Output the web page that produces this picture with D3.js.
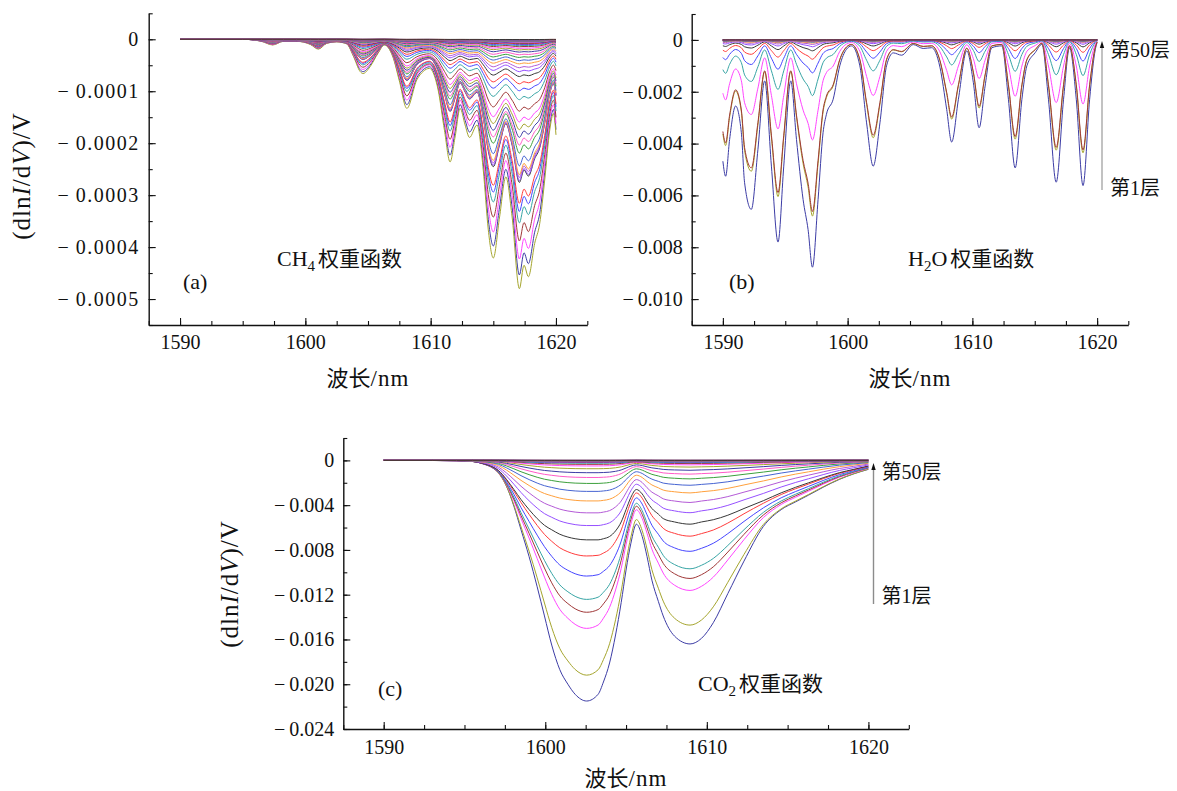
<!DOCTYPE html>
<html>
<head>
<meta charset="utf-8">
<script src="https://cdn.jsdelivr.net/npm/d3@7/dist/d3.min.js"></script>
<style>
  html, body { margin: 0; background: #fff; }
  svg text { font-family: "Liberation Serif", "DejaVu Serif", serif; fill: #111; }
  svg .cjk { font-family: "Noto Sans CJK SC", "Noto Sans CJK JP", sans-serif; }
</style>
</head>
<body>
<svg id="chart" width="1177" height="791"></svg>
<script>
// ---------- data ----------
// Weighting functions (dlnI/dV)/V for 50 atmospheric layers, expressed as two
// basis spectra per gas (lower-layer shape, upper-layer shape) and per-layer weights.

const wavelengthTicks = [1590, 1600, 1610, 1620];

// CH4, values in units of 1e-4
const ch4Wavelength = [1590, 1595, 1596.5, 1597.4, 1598.25, 1599.3, 1600.4, 1601.04, 1601.7, 1602.5,
  1603.3, 1603.84, 1604.37, 1604.6, 1605.16, 1605.8, 1606.3, 1607.0, 1607.5, 1608.1,
  1608.9, 1609.4, 1609.9, 1610.6, 1611.1, 1611.55, 1611.95, 1612.35, 1612.75, 1613.1,
  1613.7, 1614.2, 1614.6, 1615.0, 1615.5, 1616.0, 1616.5, 1617.08, 1617.45, 1617.8,
  1618.3, 1618.7, 1619.1, 1619.5, 1619.8, 1620];
const ch4Deep = [0, 0, -0.04, -0.11, -0.04, -0.04, -0.10, -0.19, -0.08, -0.05,
  -0.09, -0.33, -0.62, -0.66, -0.53, -0.27, -0.11, -0.35, -0.80, -1.33,
  -0.78, -0.62, -0.56, -0.98, -1.75, -2.36, -1.88, -1.33, -1.65, -1.89,
  -1.65, -2.52, -3.67, -4.21, -3.42, -2.65, -3.42, -4.80, -4.35, -4.57,
  -3.93, -3.55, -2.71, -1.75, -1.43, -1.84];
const ch4Upper = [0, 0, -0.02, -0.05, -0.03, -0.03, -0.06, -0.09, -0.06, -0.05,
  -0.08, -0.18, -0.30, -0.33, -0.28, -0.18, -0.14, -0.28, -0.50, -0.72,
  -0.58, -0.52, -0.50, -0.70, -1.00, -1.20, -1.10, -0.98, -1.08, -1.16,
  -1.10, -1.45, -1.82, -2.00, -1.85, -1.70, -1.88, -2.06, -1.98, -2.02,
  -1.92, -1.82, -1.50, -1.00, -0.80, -0.95];
const ch4WeightDeep = [0.945, 1, 0.881, 0.772, 0.669, 0.615, 0.567, 0.495, 0.489, 0.452,
  0.443, 0.366, 0.285, 0.223, 0.187, 0.154, 0.124, 0.093, 0.065, 0.045,
  0.029, 0.016, 0.014, 0.006, 0, 0, 0, 0, 0, 0,
  0, 0, 0, 0, 0, 0, 0, 0, 0, 0,
  0, 0, 0, 0, 0, 0, 0, 0, 0, 0];
const ch4WeightUpper = [0, 0, 0, 0.086, 0.157, 0.176, 0.211, 0.184, 0.182, 0.238,
  0.233, 0.33, 0.40, 0.47, 0.481, 0.486, 0.484, 0.455, 0.413, 0.376,
  0.349, 0.311, 0.27, 0.252, 0.23, 0.2, 0.17, 0.145, 0.12, 0.10,
  0.085, 0.07, 0.06, 0.05, 0.0425, 0.036, 0.031, 0.027, 0.0235, 0.0205,
  0.018, 0.0155, 0.0135, 0.0115, 0.01, 0.0085, 0.007, 0.0055, 0.004, 0.0025];
const ch4YTicks = [0, -0.0001, -0.0002, -0.0003, -0.0004, -0.0005];

// H2O, values in units of 1e-3
const h2oWavelength = [1590.0, 1590.22, 1590.54, 1591.02, 1591.48, 1591.74, 1592.28, 1592.81, 1593.35, 1593.89,
  1594.42, 1594.88, 1595.44, 1595.9, 1596.43, 1596.83, 1597.18, 1597.63, 1598.03, 1598.3,
  1598.84, 1599.37, 1599.91, 1600.31, 1600.98, 1601.52, 1602.05, 1602.59, 1603.12, 1603.66,
  1604.33, 1605.26, 1606.06, 1606.74, 1607.4, 1607.94, 1608.34, 1608.88, 1609.55, 1610.08,
  1610.54, 1611.02, 1611.56, 1612.36, 1612.89, 1613.43, 1613.97, 1614.37, 1615.04, 1615.57,
  1616.1, 1616.72, 1617.31, 1617.79, 1618.33, 1618.87, 1619.4, 1619.86, 1620.0];
const h2oDeep = [-4.68, -5.26, -3.84, -2.55, -3.58, -5.51, -6.54, -4.22, -1.58, -4.87,
  -7.80, -4.87, -1.58, -3.84, -6.16, -7.32, -8.77, -6.16, -3.58, -2.87,
  -2.29, -1.00, -0.36, -0.23, -1.00, -3.20, -4.87, -3.20, -1.00, -0.50,
  -0.59, -0.18, -0.33, -0.30, -1.05, -2.68, -3.94, -2.29, -0.42, -1.65,
  -3.39, -1.78, -0.30, -0.23, -2.29, -4.94, -2.29, -1.00, -0.49, -0.17,
  -2.29, -5.49, -2.29, -0.30, -2.29, -5.62, -2.29, -0.36, -0.10];
const h2oWeight = [1.0, 0.775, 0.44, 0.755, 0.245, 0.145, 0.085, 0.048, 0.030, 0.020,
  0.014, 0.010, 0.008, 0.0065, 0.0055, 0.0047, 0.004, 0.0035, 0.003, 0.0026,
  0.0023, 0.002, 0.0018, 0.0016, 0.0014, 0.0012, 0.0011, 0.001, 0.0009, 0.0008,
  0.0007, 0.0006, 0.00055, 0.0005, 0.00045, 0.0004, 0.00035, 0.0003, 0.00028, 0.00025,
  0.00022, 0.0002, 0.00018, 0.00016, 0.00014, 0.00012, 0.0001, 0.00008, 0.00006, 0.00004];
const h2oYTicks = [0, -0.002, -0.004, -0.006, -0.008, -0.010];

// CO2, values in units of 1e-3
const co2Wavelength = [1590, 1593, 1594.5, 1595.5, 1596.2, 1596.7, 1597.1, 1597.6, 1598.06, 1598.5,
  1599.0, 1599.5, 1599.95, 1600.4, 1600.9, 1601.4, 1601.85, 1602.56, 1603.27, 1603.6,
  1603.98, 1604.35, 1604.7, 1605.0, 1605.3, 1605.64, 1606.0, 1606.3, 1606.6, 1607.0,
  1607.3, 1608.0, 1608.96, 1609.67, 1610.4, 1611.3, 1612.3, 1613.5, 1614.6, 1615.5,
  1616.3, 1617.2, 1618.2, 1619.1, 1620];
const co2Deep = [0, 0, -0.01, -0.05, -0.3, -0.6, -1.1, -2.3, -4.1, -6.2,
  -8.6, -11.3, -13.9, -16.5, -18.7, -20.0, -20.9, -21.5, -20.9, -19.8,
  -18.1, -15.6, -12.7, -9.8, -7.4, -5.7, -6.8, -8.6, -10.7, -12.6,
  -13.9, -15.7, -16.4, -15.9, -14.5, -11.9, -9.0, -5.9, -4.4, -3.7,
  -3.1, -2.4, -1.7, -1.2, -0.8];
const co2Upper = [0, -0.01, -0.03, -0.1, -0.3, -0.55, -0.9, -1.7, -2.6, -3.5,
  -4.4, -5.2, -5.8, -6.2, -6.6, -6.85, -7.0, -7.1, -7.1, -7.0,
  -6.8, -6.3, -5.5, -4.4, -3.3, -2.6, -3.0, -3.7, -4.3, -4.8,
  -5.2, -5.5, -5.7, -5.5, -5.3, -4.9, -4.3, -3.6, -2.9, -2.4,
  -2.0, -1.55, -1.1, -0.8, -0.5];
const co2WeightDeep = [1, 0.8, 0.5, 0.4, 0.33, 0.2, 0.1, 0, 0, 0,
  0, 0, 0, 0, 0, 0, 0, 0, 0, 0,
  0, 0, 0, 0, 0, 0, 0, 0, 0, 0,
  0, 0, 0, 0, 0, 0, 0, 0, 0, 0,
  0, 0, 0, 0, 0, 0, 0, 0, 0, 0];
const co2WeightUpper = [0, 0.28, 0.6, 0.7, 0.75, 0.85, 0.9, 1, 0.82, 0.66,
  0.51, 0.39, 0.29, 0.215, 0.155, 0.105, 0.07, 0.05, 0.036, 0.027,
  0.02, 0.015, 0.012, 0.01, 0.0085, 0.0072, 0.0062, 0.0054, 0.0047, 0.0041,
  0.0036, 0.0032, 0.0028, 0.0025, 0.0022, 0.002, 0.0018, 0.0016, 0.0014, 0.0012,
  0.0011, 0.001, 0.0009, 0.0008, 0.0007, 0.0006, 0.0005, 0.0004, 0.0003, 0.0002];
const co2YTicks = [0, -0.004, -0.008, -0.012, -0.016, -0.020, -0.024];

// line colour cycle, layer 1 first
const layerColors = ['#3c3ca5', '#a5a52d', '#ff46ff', '#a03737', '#37a5a5', '#4646ff', '#ff3c3c',
  '#373737', '#9650ff', '#b45ad7', '#ffa03c', '#4664d2', '#3ca03c', '#ff5ac8'];

// ---------- drawing ----------
const serif = '"Liberation Serif", "DejaVu Serif", serif';
const svg = d3.select('#chart');

const panels = [
  { wl: ch4Wavelength, deep: ch4Deep, upper: ch4Upper, wDeep: ch4WeightDeep, wUpper: ch4WeightUpper,
    unit: 1e-4, xr: [148.7, 587.3], yr: [325, 13.3], yDomain: [-0.00055, 0.00005], yMinorStep: 0.00005,
    yTicks: ch4YTicks, digits: 4, labelPad: 10, yLabelSpacing: 1.5 },
  { wl: h2oWavelength, deep: h2oDeep, upper: null, wDeep: h2oWeight, wUpper: null,
    unit: 1e-3, xr: [691.7, 1128.3], yr: [325, 14], yDomain: [-0.011, 0.001], yMinorStep: 0.001,
    yTicks: h2oYTicks, digits: 3, labelPad: 10, yLabelSpacing: 0 },
  { wl: co2Wavelength, deep: co2Deep, upper: co2Upper, wDeep: co2WeightDeep, wUpper: co2WeightUpper,
    unit: 1e-3, xr: [343.3, 908.8], yr: [729, 438], yDomain: [-0.024, 0.002], yMinorStep: 0.002,
    yTicks: co2YTicks, digits: 3, labelPad: 11, yLabelSpacing: 0 }
];

panels.forEach(p => {
  const x = d3.scaleLinear().domain([1587.5, 1622.5]).range(p.xr);
  const y = d3.scaleLinear().domain(p.yDomain).range(p.yr);
  const g = svg.append('g');

  const line = d3.line()
    .x(d => x(d[0]))
    .y(d => y(d[1]))
    .curve(d3.curveMonotoneX);

  const layers = d3.range(50).map(k =>
    p.wl.map((w, i) => [w, (p.wDeep[k] * p.deep[i] + (p.upper ? p.wUpper[k] * p.upper[i] : 0)) * p.unit]));

  g.append('g').selectAll('path')
    .data(layers)
    .join('path')
    .attr('d', line)
    .attr('fill', 'none')
    .attr('stroke', (d, k) => layerColors[k % layerColors.length])
    .attr('stroke-width', 1);

  const fmt = v => Math.abs(v) < 1e-12 ? '0' : '\u2212\u2009' + d3.format('.' + p.digits + 'f')(Math.abs(v));

  // x axis, major and minor ticks pointing inward
  const xMinor = d3.range(15).map(i => 1587.5 + i * 2.5);
  g.append('g').attr('transform', `translate(0,${p.yr[0]})`)
    .call(d3.axisBottom(x).tickValues(xMinor).tickSizeInner(-4).tickSizeOuter(0).tickFormat(''))
    .call(a => a.select('.domain').remove());
  const xa = g.append('g').attr('transform', `translate(0,${p.yr[0]})`)
    .call(d3.axisBottom(x).tickValues(wavelengthTicks).tickSizeInner(-7).tickSizeOuter(0)
      .tickPadding(p.labelPad).tickFormat(d3.format('d')));

  // y axis
  const nMinor = Math.round((p.yDomain[1] - p.yDomain[0]) / p.yMinorStep) + 1;
  const yMinor = d3.range(nMinor).map(i => p.yDomain[0] + i * p.yMinorStep);
  g.append('g').attr('transform', `translate(${p.xr[0]},0)`)
    .call(d3.axisLeft(y).tickValues(yMinor).tickSizeInner(-4).tickSizeOuter(0).tickFormat(''))
    .call(a => a.select('.domain').remove());
  const ya = g.append('g').attr('transform', `translate(${p.xr[0]},0)`)
    .call(d3.axisLeft(y).tickValues(p.yTicks).tickSizeInner(-7).tickSizeOuter(0)
      .tickPadding(9).tickFormat(fmt));
  ya.selectAll('text').attr('letter-spacing', p.yLabelSpacing);

  g.selectAll('.tick line').attr('stroke', '#111').attr('stroke-width', 1.1);
  [xa, ya].forEach(a => {
    a.attr('font-size', 20).attr('font-family', serif);
    a.selectAll('text').style('font-family', serif).style('font-size', '20px').attr('fill', '#111');
    a.select('.domain').attr('stroke', '#111').attr('stroke-width', 1.4);
  });
});

// ---------- text ----------
function yTitle(cx, cy) {
  const t = svg.append('text')
    .attr('transform', `translate(${cx},${cy}) rotate(-90)`)
    .attr('text-anchor', 'middle')
    .attr('font-size', 25)
    .attr('letter-spacing', 1);
  t.append('tspan').text('(dln');
  t.append('tspan').attr('font-style', 'italic').text('I');
  t.append('tspan').text('/d');
  t.append('tspan').attr('font-style', 'italic').text('V');
  t.append('tspan').text(')/V');
}
yTitle(30, 176);
yTitle(238, 584);

function xTitle(cx, by) {
  const t = svg.append('text').attr('x', cx).attr('y', by)
    .attr('text-anchor', 'middle').attr('font-size', 23);
  t.append('tspan').attr('class', 'cjk').attr('font-size', 22).text('波长');
  t.append('tspan').attr('letter-spacing', 1).text('/nm');
}
xTitle(368, 386);
xTitle(910, 386);
xTitle(626, 786);

function panelTag(x, y, s) {
  svg.append('text').attr('x', x).attr('y', y).attr('font-size', 22).text(s);
}
panelTag(183, 289, '(a)');
panelTag(729, 289, '(b)');
panelTag(378, 696, '(c)');

function gasTitle(x, y, parts) {
  const t = svg.append('text').attr('x', x).attr('y', y).attr('font-size', 22);
  parts.forEach(([s, kind]) => {
    const sp = t.append('tspan').text(s);
    if (kind === 'sub') sp.attr('font-size', 15).attr('dy', 5);
    if (kind === 'after') sp.attr('dy', -5);
    if (kind === 'cjk' || kind === 'cjkAfter') {
      sp.attr('class', 'cjk').attr('font-size', 21).attr('dx', 3);
      if (kind === 'cjkAfter') sp.attr('dy', -5);
    }
  });
}
gasTitle(277, 266, [['CH'], ['4', 'sub'], ['权重函数', 'cjkAfter']]);
gasTitle(908, 266, [['H'], ['2', 'sub'], ['O', 'after'], ['权重函数', 'cjk']]);
gasTitle(698, 691, [['CO'], ['2', 'sub'], ['权重函数', 'cjkAfter']]);

function layerArrow(x, yTop, yBottom, color, topLabelY, bottomLabelY) {
  svg.append('line').attr('x1', x).attr('x2', x).attr('y1', yBottom).attr('y2', yTop + 4)
    .attr('stroke', color).attr('stroke-width', 1.4);
  svg.append('path')
    .attr('d', `M${x},${yTop} L${x - 2.2},${yTop + 7} L${x + 2.2},${yTop + 7} Z`)
    .attr('fill', '#111');
  const t1 = svg.append('text').attr('x', x + 8).attr('y', topLabelY).attr('font-size', 20);
  t1.append('tspan').attr('class', 'cjk').text('第');
  t1.append('tspan').text('50');
  t1.append('tspan').attr('class', 'cjk').text('层');
  const t2 = svg.append('text').attr('x', x + 8).attr('y', bottomLabelY).attr('font-size', 20);
  t2.append('tspan').attr('class', 'cjk').text('第');
  t2.append('tspan').text('1');
  t2.append('tspan').attr('class', 'cjk').text('层');
}
layerArrow(1102, 41, 190, '#a8a8a8', 57, 195);
layerArrow(873.5, 463, 604, '#8c8c8c', 479, 603);
</script>
</body>
</html>
